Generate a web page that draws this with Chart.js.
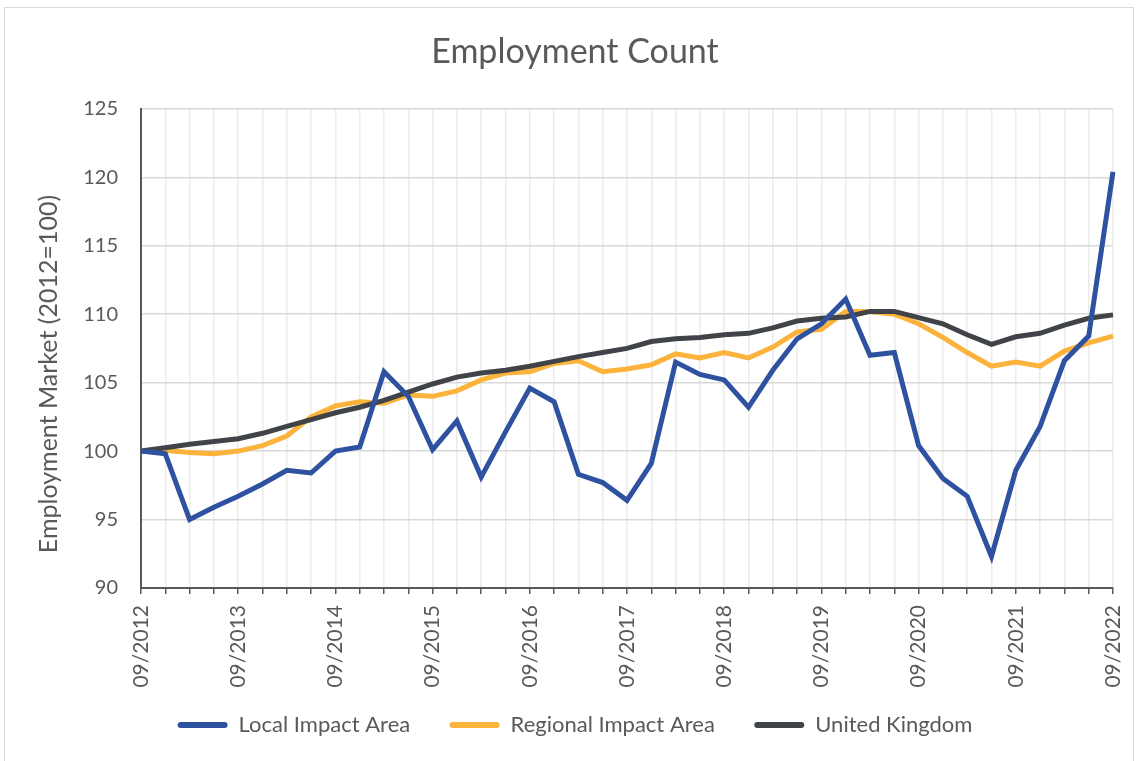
<!DOCTYPE html>
<html>
<head>
<meta charset="utf-8">
<script src="https://cdn.jsdelivr.net/npm/chart.js@4/dist/chart.umd.min.js"></script>
<style>
    body { margin: 0; background: #fff; }
    #wrap { position: relative; width: 1140px; height: 761px; overflow: hidden; }
    #frame { position: absolute; left: 4px; top: 7px; width: 1128px; height: 770px; border: 1px solid #d9d9d9; }
    #EmploymentChart { position: absolute; left: 0; top: 0; }
</style>
</head>
<body>
<div id="wrap">
    <div id="frame"></div>
    <canvas id="EmploymentChart" width="1140" height="761"></canvas>
</div>
<script>
const quarters = [
    "09/2012", "12/2012", "03/2013", "06/2013", "09/2013", "12/2013", "03/2014", "06/2014",
    "09/2014", "12/2014", "03/2015", "06/2015", "09/2015", "12/2015", "03/2016", "06/2016",
    "09/2016", "12/2016", "03/2017", "06/2017", "09/2017", "12/2017", "03/2018", "06/2018",
    "09/2018", "12/2018", "03/2019", "06/2019", "09/2019", "12/2019", "03/2020", "06/2020",
    "09/2020", "12/2020", "03/2021", "06/2021", "09/2021", "12/2021", "03/2022", "06/2022",
    "09/2022"
];

const localArea = [
    100, 99.8, 95.0, 95.9, 96.7, 97.6, 98.6, 98.4, 100.0, 100.3,
    105.8, 104.0, 100.1, 102.2, 98.1, 101.4, 104.6, 103.6, 98.3, 97.7,
    96.4, 99.1, 106.5, 105.6, 105.2, 103.2, 105.9, 108.2, 109.3, 111.1,
    107.0, 107.2, 100.4, 98.0, 96.7, 92.3, 98.6, 101.8, 106.6, 108.4,
    120.4
];

const regionalArea = [
    100, 100.05, 99.9, 99.8, 100.0, 100.4, 101.1, 102.5, 103.3, 103.6,
    103.5, 104.1, 104.0, 104.4, 105.2, 105.7, 105.8, 106.4, 106.6, 105.8,
    106.0, 106.3, 107.1, 106.8, 107.2, 106.8, 107.6, 108.7, 108.9, 110.2,
    110.2, 110.0, 109.3, 108.3, 107.2, 106.2, 106.5, 106.2, 107.3, 107.9,
    108.4
];

const unitedKingdom = [
    100, 100.25, 100.5, 100.7, 100.9, 101.3, 101.8, 102.3, 102.8, 103.2,
    103.7, 104.3, 104.9, 105.4, 105.7, 105.9, 106.2, 106.55, 106.9, 107.2,
    107.5, 108.0, 108.2, 108.3, 108.5, 108.6, 109.0, 109.5, 109.7, 109.8,
    110.2, 110.2, 109.75, 109.3, 108.5, 107.8, 108.35, 108.6, 109.2, 109.7,
    109.95
];

const textColor = "#595959";
const legendGap = " ".repeat(7);

// fixed legend height so the row lands where the original has it
const legendHeight = {
    id: "legendHeight",
    beforeLayout(chart) {
        const legend = chart.legend;
        if (!legend || legend._patched) return;
        const fit = legend.fit;
        legend.fit = function () {
            fit.call(this);
            this.height = 47;
        };
        legend._patched = true;
    },
};

function EmploymentChart() {
    const ctx = document.getElementById("EmploymentChart");

    new Chart(ctx, {
        type: "line",
        data: {
            labels: quarters,
            datasets: [
                {
                    label: "Local Impact Area",
                    data: localArea,
                    borderColor: "#2f52a0",
                    backgroundColor: "#2f52a0",
                    borderWidth: 5,
                    pointRadius: 0,
                    tension: 0,
                    order: 0,
                },
                {
                    label: "Regional Impact Area",
                    data: regionalArea,
                    borderColor: "#fbb33c",
                    backgroundColor: "#fbb33c",
                    borderWidth: 5,
                    pointRadius: 0,
                    tension: 0,
                    order: 2,
                },
                {
                    label: "United Kingdom",
                    data: unitedKingdom,
                    borderColor: "#404448",
                    backgroundColor: "#404448",
                    borderWidth: 5,
                    pointRadius: 0,
                    tension: 0,
                    order: 1,
                },
            ],
        },
        options: {
            responsive: false,
            animation: false,
            layout: {
                padding: { left: 10, right: 0, top: 0, bottom: 0 },
            },
            scales: {
                x: {
                    afterFit: (scale) => {
                        scale.height = 126;
                        scale.paddingRight = 0; // last label may hang into the right margin
                    },
                    ticks: {
                        autoSkip: false,
                        minRotation: 90,
                        maxRotation: 90,
                        padding: 11,
                        color: textColor,
                        font: { family: "Lato", size: 21 },
                        callback: function (value, index) {
                            return index % 4 === 0 ? this.getLabelForValue(value) : "";
                        },
                    },
                    grid: {
                        color: "#ebebeb",
                        lineWidth: 1.5,
                        tickLength: 6,
                        tickColor: textColor,
                        tickWidth: 1.5,
                    },
                    border: {
                        color: textColor,
                        width: 2,
                    },
                },
                y: {
                    min: 90,
                    max: 125,
                    afterFit: (scale) => { scale.width = 131; },
                    ticks: {
                        stepSize: 5,
                        padding: 23,
                        color: textColor,
                        font: { family: "Lato", size: 20 },
                    },
                    grid: {
                        color: "#d9d9d9",
                        lineWidth: 1.5,
                        drawTicks: false,
                    },
                    border: {
                        color: textColor,
                        width: 2,
                    },
                    title: {
                        display: true,
                        // trailing spaces push the text a little lower, as in the original
                        text: "Employment Market (2012=100)" + " ".repeat(8),
                        color: textColor,
                        padding: { top: 24, bottom: 0 },
                        font: { family: "Lato", size: 25 },
                    },
                },
                // empty right-hand spacer so the plot ends where the original does
                yRight: {
                    position: "right",
                    afterFit: (scale) => { scale.width = 27; },
                    ticks: { display: false },
                    grid: { display: false },
                    border: { display: false },
                },
            },
            plugins: {
                title: {
                    display: true,
                    text: "Employment Count",
                    color: textColor,
                    padding: { top: 32, bottom: 36 },
                    font: { family: "Lato", size: 34, weight: "normal" },
                },
                legend: {
                    position: "bottom",
                    labels: {
                        boxWidth: 50,
                        boxHeight: 6,
                        padding: 0,
                        useBorderRadius: true,
                        borderRadius: 3,
                        color: textColor,
                        font: { family: "Lato", size: 22 },
                        generateLabels(chart) {
                            const items = Chart.defaults.plugins.legend.labels.generateLabels(chart);
                            items.sort((a, b) => a.datasetIndex - b.datasetIndex);
                            items.forEach((item, i) => {
                                item.lineWidth = 0;
                                if (i < items.length - 1) item.text += legendGap;
                            });
                            return items;
                        },
                    },
                },
                tooltip: {
                    enabled: false,
                },
            },
        },
        plugins: [legendHeight],
    });
}

EmploymentChart()
</script>
</body>
</html>
